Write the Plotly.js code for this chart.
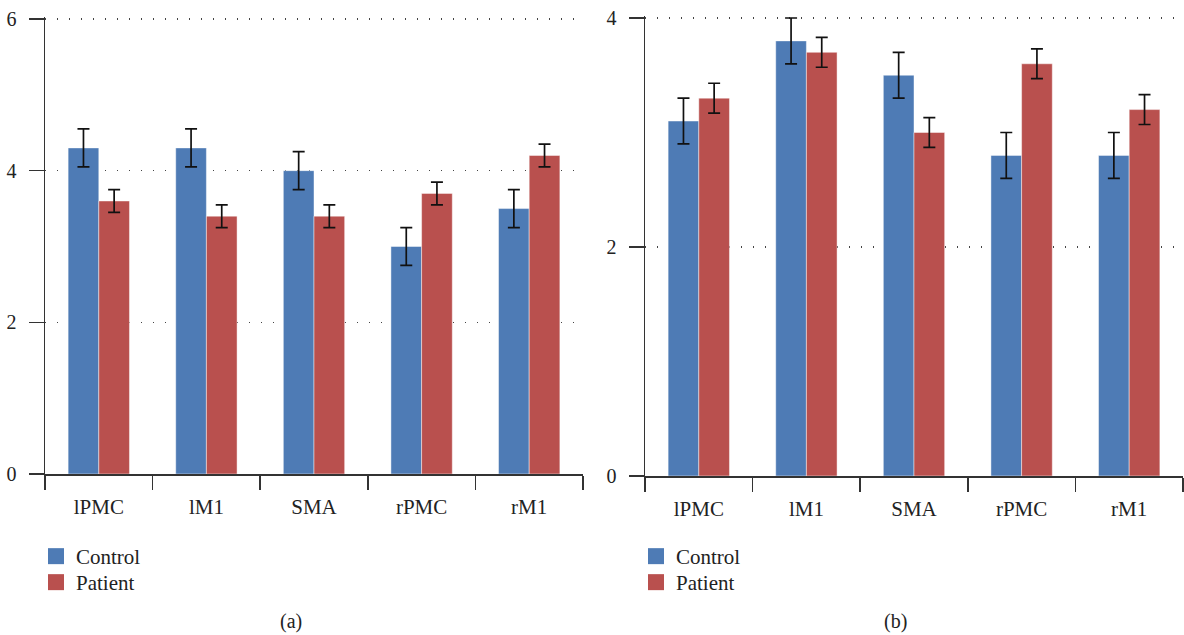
<!DOCTYPE html>
<html>
<head>
<meta charset="utf-8">
<script src="https://cdn.plot.ly/plotly-3.0.1.min.js"></script>
<style>html,body{margin:0;padding:0;background:#fff;}#chart{width:1184px;height:635px;}</style>
</head>
<body>
<div id="chart"></div>
<script>
// ---- data ----
var categories = ['lPMC', 'lM1', 'SMA', 'rPMC', 'rM1'];
var seriesNames = ['Control', 'Patient'];
// panel (a)
var controlA = [4.3, 4.3, 4.0, 3.0, 3.5];
var controlAErr = [0.25, 0.25, 0.25, 0.25, 0.25];
var patientA = [3.6, 3.4, 3.4, 3.7, 4.2];
var patientAErr = [0.15, 0.15, 0.15, 0.15, 0.15];
// panel (b)
var controlB = [3.1, 3.8, 3.5, 2.8, 2.8];
var controlBErr = [0.2, 0.2, 0.2, 0.2, 0.2];
var patientB = [3.3, 3.7, 3.0, 3.6, 3.2];
var patientBErr = [0.13, 0.13, 0.13, 0.13, 0.13];
var yTicksA = [0, 2, 4, 6];
var yTicksB = [0, 2, 4];
var panelLabels = ['(a)', '(b)'];

// ---- style ----
var BLUE = '#4e7bb5';
var RED = '#b9504e';
var FONT = 'Liberation Serif';
var W = 1184, H = 635;

function barTrace(name, y, err, color, xa, ya) {
  return {
    type: 'bar', name: name, x: categories, y: y,
    xaxis: xa, yaxis: ya, showlegend: false,
    marker: {color: color, line: {color: 'rgba(255,255,255,0.45)', width: 1}},
    error_y: {type: 'data', array: err, visible: true, color: '#111', thickness: 1.7, width: 6},
    hoverinfo: 'x+y'
  };
}
// legend-only swatches (no data points)
function legendSwatch(name, color, xa, ya, legend) {
  return {
    type: 'scatter', mode: 'markers', name: name, x: [null], y: [null],
    xaxis: xa, yaxis: ya, legend: legend, showlegend: true,
    marker: {symbol: 'square', size: 16, color: color, line: {width: 0}},
    hoverinfo: 'skip'
  };
}

var data = [
  barTrace(seriesNames[0], controlA, controlAErr, BLUE, 'x', 'y'),
  barTrace(seriesNames[1], patientA, patientAErr, RED, 'x', 'y'),
  barTrace(seriesNames[0], controlB, controlBErr, BLUE, 'x2', 'y2'),
  barTrace(seriesNames[1], patientB, patientBErr, RED, 'x2', 'y2'),
  legendSwatch(seriesNames[0], BLUE, 'x', 'y', 'legend'),
  legendSwatch(seriesNames[1], RED, 'x', 'y', 'legend3'),
  legendSwatch(seriesNames[0], BLUE, 'x2', 'y2', 'legend2'),
  legendSwatch(seriesNames[1], RED, 'x2', 'y2', 'legend4')
];

function xAxis(domain, anchor) {
  return {
    domain: domain, anchor: anchor, type: 'category',
    showline: true, linecolor: '#333', linewidth: 1.5,
    ticks: 'outside', ticklen: 14, tickwidth: 1.5, tickcolor: '#333',
    tickson: 'boundaries', showgrid: false, zeroline: false,
    ticklabelstandoff: 13,
    tickfont: {family: FONT, size: 21, color: '#222'},
    automargin: false, fixedrange: true
  };
}
function yAxis(domain, anchor, range, ticks) {
  return {
    domain: domain, anchor: anchor, range: range,
    tickmode: 'array', tickvals: ticks, ticktext: ticks.map(String),
    showline: true, linecolor: '#333', linewidth: 1.5,
    ticks: 'outside', ticklen: 15, tickwidth: 1.5, tickcolor: '#333',
    ticklabelstandoff: 8,
    showgrid: true, gridcolor: '#444', gridwidth: 1.3, griddash: '1.3px,10.7px',
    zeroline: false,
    tickfont: {family: FONT, size: 20, color: '#222'},
    automargin: false, fixedrange: true
  };
}

var legendStyle = function (xpx, topPx) {
  return {
    x: xpx / W, y: (H - topPx) / H, xanchor: 'left', yanchor: 'top',
    font: {family: FONT, size: 21, color: '#222'}, bgcolor: 'rgba(0,0,0,0)',
    traceorder: 'normal', itemsizing: 'trace'
  };
};

var layout = {
  width: W, height: H,
  font: {family: FONT, size: 20, color: '#222'},
  margin: {l: 0, r: 0, t: 0, b: 0, pad: 0},
  paper_bgcolor: '#fff', plot_bgcolor: 'rgba(0,0,0,0)',
  barmode: 'group', bargap: 0.43, bargroupgap: 0,
  xaxis: xAxis([45 / W, 583 / W], 'y'),
  yaxis: yAxis([(H - 474) / H, (H - 16.7) / H], 'x', [0, 6.03], yTicksA),
  xaxis2: xAxis([645 / W, 1183 / W], 'y2'),
  yaxis2: yAxis([(H - 476) / H, (H - 15.7) / H], 'x2', [0, 4.02], yTicksB),
  legend: legendStyle(36, 536),
  legend3: legendStyle(36, 562),
  legend2: legendStyle(636, 536),
  legend4: legendStyle(636, 562),
  annotations: [
    {text: panelLabels[0], xref: 'paper', yref: 'paper', x: 291 / W, y: (H - 621) / H,
     xanchor: 'center', yanchor: 'middle',
     showarrow: false, font: {family: FONT, size: 20, color: '#222'}},
    {text: panelLabels[1], xref: 'paper', yref: 'paper', x: 895 / W, y: (H - 621) / H,
     xanchor: 'center', yanchor: 'middle',
     showarrow: false, font: {family: FONT, size: 20, color: '#222'}}
  ],
  showlegend: true
};

Plotly.newPlot('chart', data, layout, {displayModeBar: false, staticPlot: true});
</script>
</body>
</html>
